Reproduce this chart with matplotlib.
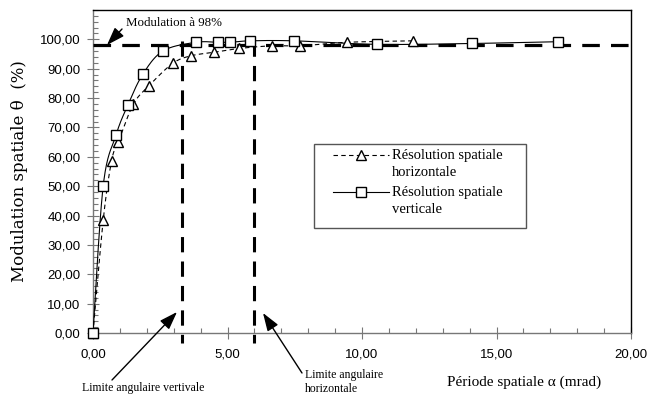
import numpy as np
import matplotlib
matplotlib.use("Agg")
import matplotlib.pyplot as plt
from matplotlib.ticker import MultipleLocator, FuncFormatter
from matplotlib.patches import Rectangle
from matplotlib.lines import Line2D

# ---------------- data ----------------
horiz_x = [0.0, 0.38, 0.69, 0.94, 1.50, 2.08, 2.96, 3.64, 4.50, 5.44, 6.64, 7.70, 9.43, 11.88]
horiz_y = [0.0, 38.5, 58.6, 65.1, 77.9, 84.2, 91.8, 94.4, 95.6, 96.9, 97.8, 97.8, 99.0, 99.5]

vert_x = [0.0, 0.38, 0.855, 1.29, 1.85, 2.61, 3.83, 4.64, 5.09, 5.84, 7.48, 10.57, 14.10, 17.27]
vert_y = [0.0, 50.2, 67.4, 77.5, 88.1, 96.1, 99.0, 99.0, 99.0, 99.5, 99.5, 98.3, 98.6, 99.2]

threshold = 98.0
limit_vert = 3.30
limit_horiz = 6.00

x_ticks = [0, 5, 10, 15, 20]
y_ticks = [0, 10, 20, 30, 40, 50, 60, 70, 80, 90, 100]

label_h = ["Résolution spatiale", "horizontale"]
label_v = ["Résolution spatiale", "verticale"]

W, H = 666, 397


def fp(x, y):
    """image pixel (from top-left) -> figure fraction"""
    return (x / W, 1 - y / H)


def smooth(xs, ys, n=20):
    """Excel-like smoothed line (Catmull-Rom Bezier through the points)."""
    P = np.column_stack([xs, ys]).astype(float)
    out = [P[0]]
    m = len(P)
    t = np.linspace(0, 1, n)[1:, None]
    for i in range(m - 1):
        p0 = P[i - 1] if i > 0 else P[i]
        p1 = P[i]
        p2 = P[i + 1]
        p3 = P[i + 2] if i + 2 < m else P[i + 1]
        c1 = p1 + (p2 - p0) / 6.0
        c2 = p2 - (p3 - p1) / 6.0
        seg = ((1 - t) ** 3) * p1 + 3 * ((1 - t) ** 2) * t * c1 + 3 * (1 - t) * t ** 2 * c2 + t ** 3 * p2
        out.extend(seg)
    out = np.array(out)
    return out[:, 0], out[:, 1]


serif = ["Liberation Serif", "DejaVu Serif"]
sans = ["Liberation Sans", "DejaVu Sans"]
DASH_THIN = (0, (4, 3))

fig = plt.figure(figsize=(W / 100, H / 100), dpi=100)
ax = fig.add_axes([93 / W, (H - 333) / H, (631 - 93) / W, (333 - 10) / H])
ax.set_xlim(0, 20)
ax.set_ylim(0, 110)

# curves
sx, sy = smooth(horiz_x, horiz_y)
ax.plot(sx, sy, color="black", lw=0.8, ls=DASH_THIN, zorder=3)
ax.plot(horiz_x, horiz_y, ls="none", marker="^", ms=7.5, mfc="white", mec="black", mew=1.0,
        zorder=6, clip_on=False)
sx, sy = smooth(vert_x, vert_y)
ax.plot(sx, sy, color="black", lw=0.8, zorder=3)
ax.plot(vert_x, vert_y, ls="none", marker="s", ms=7, mfc="white", mec="black", mew=1.0,
        zorder=6, clip_on=False)

# threshold & limit lines
ax.plot([0, 20], [threshold, threshold], color="black", lw=2.3, ls=(0, (5.5, 3.5)),
        zorder=5, clip_on=False)
ax.plot([limit_vert, limit_vert], [99.5, -3.5], color="black", lw=2.2, ls=(0, (5, 3)),
        zorder=5, clip_on=False)
ax.plot([limit_horiz, limit_horiz], [99.5, -3.5], color="black", lw=2.2, ls=(0, (5, 3)),
        zorder=5, clip_on=False)

# axes style
for s in ["left", "bottom"]:
    ax.spines[s].set_color("#777777")
    ax.spines[s].set_linewidth(1.0)
for s in ["top", "right"]:
    ax.spines[s].set_color("black")
    ax.spines[s].set_linewidth(1.0)

ax.xaxis.set_minor_locator(MultipleLocator(1))
ax.yaxis.set_minor_locator(MultipleLocator(2))
fmt = FuncFormatter(lambda v, p: f"{v:.2f}".replace(".", ","))
ax.set_xticks(x_ticks)
ax.set_yticks(y_ticks)
ax.xaxis.set_major_formatter(fmt)
ax.yaxis.set_major_formatter(fmt)
ax.tick_params(which="major", direction="inout", length=8, width=0.8, color="#777777",
               labelsize=9.5)
ax.tick_params(which="minor", direction="in", length=3.5, width=0.8, color="#777777")
ax.tick_params(axis="x", which="major", pad=7)
ax.tick_params(axis="y", which="major", pad=5)
for lab in ax.get_xticklabels() + ax.get_yticklabels():
    lab.set_family(sans)

# legend (drawn manually to keep handle aligned with first label line)
fig.add_artist(Rectangle(fp(314, 228), (526 - 314) / W, (228 - 144) / H,
                         transform=fig.transFigure, facecolor="white",
                         edgecolor="#555555", lw=1.0, zorder=7))
for (ls, mk, ms, yy, lab) in [(DASH_THIN, "^", 7.5, 155, label_h), ("-", "s", 7, 192, label_v)]:
    x0, y0 = fp(333, yy)
    x1, _ = fp(389, yy)
    fig.add_artist(Line2D([x0, x1], [y0, y0], transform=fig.transFigure, color="black",
                          lw=0.8, ls=ls, zorder=8))
    xm, _ = fp(361, yy)
    fig.add_artist(Line2D([xm], [y0], transform=fig.transFigure, ls="none", marker=mk, ms=ms,
                          mfc="white", mec="black", mew=1.0, zorder=9))
    fig.text(*fp(392, yy), lab[0], ha="left", va="center", family=serif, size=10.5, zorder=9)
    fig.text(*fp(392, yy + 17.5), lab[1], ha="left", va="center", family=serif, size=10.5,
             zorder=9)

# labels
fig.text(*fp(20, 171), "Modulation spatiale θ  (%)", rotation=90, ha="center", va="center",
         family=["DejaVu Serif"], size=12)
fig.text(*fp(601, 382), "Période spatiale α (mrad)", ha="right", va="center",
         family=serif, size=11)

# annotations
arrow = dict(arrowstyle="-|>,head_length=1.1,head_width=0.38", color="black", lw=1.0,
             shrinkA=0, shrinkB=0, mutation_scale=10)
ax.annotate("", xy=fp(107, 45), xycoords="figure fraction",
            xytext=fp(122, 29), textcoords="figure fraction", arrowprops=arrow,
            annotation_clip=False)
fig.text(*fp(126, 23), "Modulation à 98%", ha="left", va="center", family=serif, size=9.3)

ax.annotate("", xy=fp(177, 312), xycoords="figure fraction",
            xytext=fp(112, 380), textcoords="figure fraction", arrowprops=arrow,
            annotation_clip=False)
fig.text(*fp(82, 388), "Limite angulaire vertivale", ha="left", va="center", family=serif,
         size=8.5)

ax.annotate("", xy=fp(263, 313), xycoords="figure fraction",
            xytext=fp(302, 373), textcoords="figure fraction", arrowprops=arrow,
            annotation_clip=False)
fig.text(*fp(305, 369), "Limite angulaire\nhorizontale", ha="left", va="top", family=serif,
         size=8.5, linespacing=1.25)

fig.savefig("out.png", dpi=100)
